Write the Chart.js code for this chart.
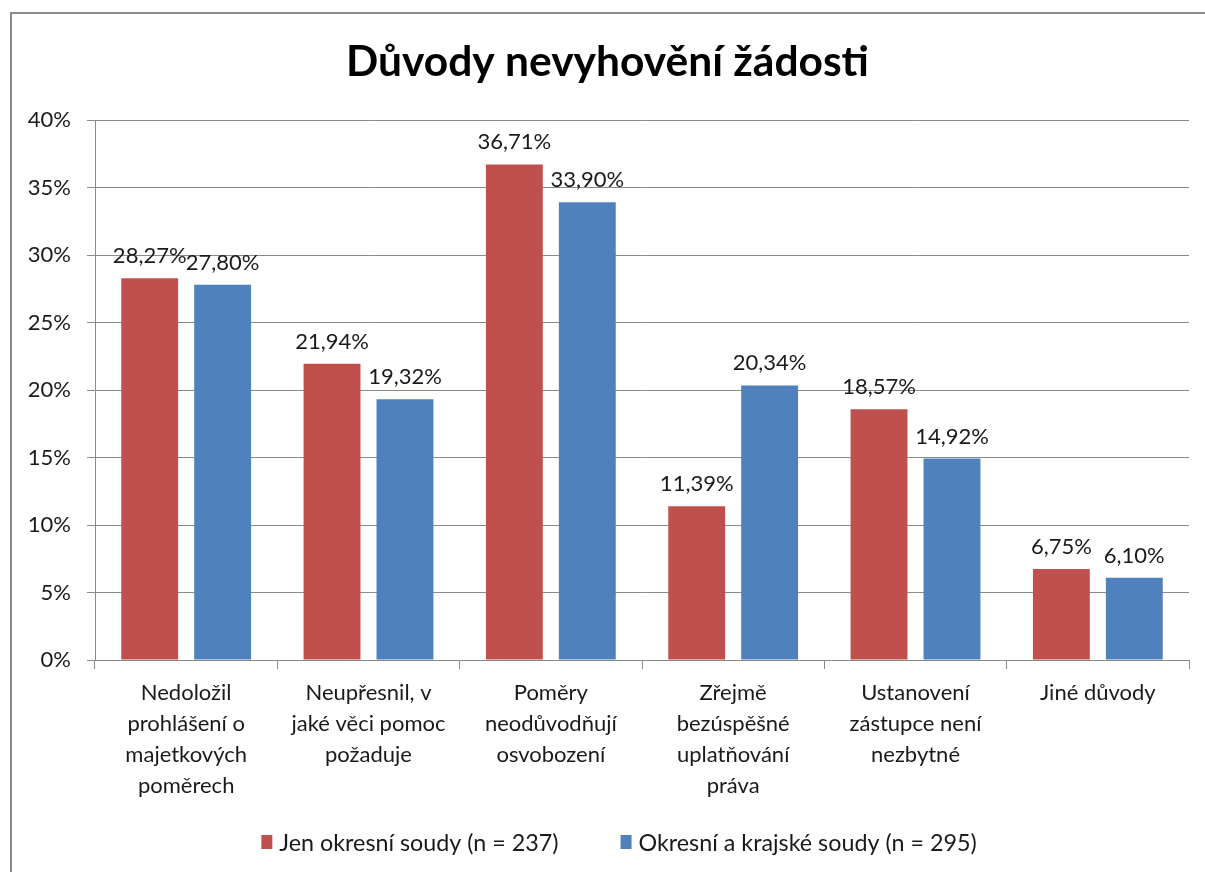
<!DOCTYPE html>
<html>
<head>
<meta charset="utf-8">
<script src="https://cdn.jsdelivr.net/npm/chart.js@4.4.1/dist/chart.umd.min.js"></script>
<style>
html,body{margin:0;padding:0;background:#fff;overflow:hidden}
#wrap{position:relative;width:1205px;height:872px;overflow:hidden}
#frame{position:absolute;left:10px;top:12px;width:1400px;height:1100px;border:2px solid #8c8c8c;box-sizing:border-box}
#c{position:absolute;left:0;top:0}
</style>
</head>
<body>
<div id="wrap">
<div id="frame"></div>
<canvas id="c" width="1205" height="872"></canvas>
</div>
<script>
const titleText = "Důvody nevyhovění žádosti";
const categories = [
  ["Nedoložil", "prohlášení o", "majetkových", "poměrech"],
  ["Neupřesnil, v", "jaké věci pomoc", "požaduje"],
  ["Poměry", "neodůvodňují", "osvobození"],
  ["Zřejmě", "bezúspěšné", "uplatňování", "práva"],
  ["Ustanovení", "zástupce není", "nezbytné"],
  ["Jiné důvody"]
];
const seriesNames = ["Jen okresní soudy (n = 237)", "Okresní a krajské soudy (n = 295)"];
const okresniValues = [28.27, 21.94, 36.71, 11.39, 18.57, 6.75];
const krajskeValues = [27.80, 19.32, 33.90, 20.34, 14.92, 6.10];
const yTicks = [0, 5, 10, 15, 20, 25, 30, 35, 40];

const FONT = "Lato, 'Open Sans', sans-serif";
const gridColor = "#8a8a8a";
const textColor = "#1a1a1a";

const fmt = v => v.toFixed(2).replace('.', ',') + '%';

const dataLabels = {
  id: 'dataLabels',
  afterDatasetsDraw(chart) {
    const ctx = chart.ctx;
    ctx.save();
    ctx.font = "22px " + FONT;
    ctx.fillStyle = textColor;
    ctx.textAlign = 'center';
    ctx.textBaseline = 'alphabetic';
    chart.data.datasets.forEach((ds, di) => {
      const meta = chart.getDatasetMeta(di);
      meta.data.forEach((el, i) => {
        ctx.fillText(fmt(ds.data[i]), el.x, el.y - 15);
      });
    });
    ctx.restore();
  }
};

// legend drawn below the axis, centred like the original
const bottomLegend = {
  id: 'bottomLegend',
  afterDraw(chart) {
    const ctx = chart.ctx;
    ctx.save();
    ctx.font = "23.3px " + FONT;
    ctx.textBaseline = 'middle';
    ctx.textAlign = 'left';
    const boxW = 11, boxH = 14, gap = 7, itemGap = 62;
    const items = chart.data.datasets.map(ds => ({ text: ds.label, color: ds.backgroundColor, w: ctx.measureText(ds.label).width }));
    const total = items.reduce((s, it) => s + boxW + gap + it.w, 0) + itemGap * (items.length - 1);
    let x = 619 - total / 2;
    const cy = chart.chartArea.bottom + 182;
    items.forEach(it => {
      ctx.fillStyle = it.color;
      ctx.fillRect(x, cy - boxH / 2, boxW, boxH);
      x += boxW + gap;
      ctx.fillStyle = textColor;
      ctx.fillText(it.text, x, cy + 1);
      x += it.w + itemGap;
    });
    ctx.restore();
  }
};

new Chart(document.getElementById('c'), {
  type: 'bar',
  data: {
    labels: categories,
    datasets: [
      { label: seriesNames[0], data: okresniValues, backgroundColor: '#C0504D', borderWidth: 0,
        categoryPercentage: 0.8, barPercentage: 0.78 },
      { label: seriesNames[1], data: krajskeValues, backgroundColor: '#4F81BD', borderWidth: 0,
        categoryPercentage: 0.8, barPercentage: 0.78 }
    ]
  },
  options: {
    responsive: false,
    devicePixelRatio: 1,
    animation: false,
    layout: { padding: { left: 26, right: 16, top: 0, bottom: 48 } },
    plugins: {
      title: {
        display: true,
        text: titleText,
        color: '#000',
        font: { family: FONT, size: 42.5, weight: 'bold', lineHeight: 1.2 },
        padding: { top: 36.5, bottom: 32.5 }
      },
      legend: { display: false },
      tooltip: { enabled: false }
    },
    scales: {
      x: {
        grid: { display: true, drawOnChartArea: false, drawTicks: true, tickLength: 9, color: gridColor, offset: true },
        border: { display: true, color: gridColor, width: 1 },
        ticks: { color: textColor, font: { family: FONT, size: 22, lineHeight: 1.4 }, padding: 9, maxRotation: 0, autoSkip: false },
        afterFit(s) { s.height = 164; }
      },
      y: {
        min: 0, max: 40,
        afterBuildTicks(s) { s.ticks = yTicks.map(v => ({ value: v })); },
        grid: { color: gridColor, tickLength: 8, drawTicks: true },
        border: { display: true, color: gridColor, width: 1 },
        ticks: { color: textColor, font: { family: FONT, size: 22 }, padding: 16, callback: v => v + '%' },
        afterFit(s) { s.width = 69; }
      }
    }
  },
  plugins: [dataLabels, bottomLegend]
});
</script>
</body>
</html>
